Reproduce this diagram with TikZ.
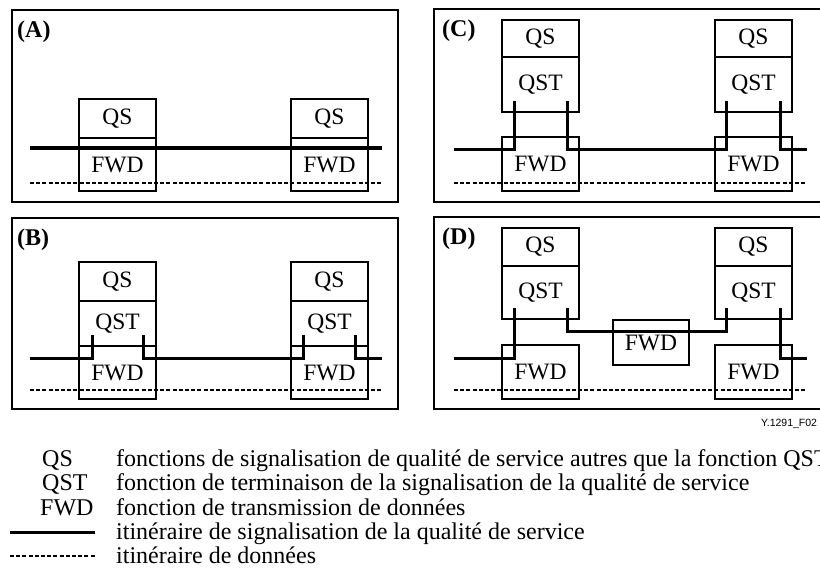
\documentclass[tikz,border=0pt]{standalone}
\usepackage{fontspec}
\setmainfont{Liberation Serif}
\newfontfamily\figsans{Liberation Sans}
\usetikzlibrary{positioning}
\begin{document}
\begin{tikzpicture}[x=1pt,y=-1pt]

\tikzset{panel/.style={draw, line width=1.6pt, anchor=north west,
    inner sep=0pt, outer sep=0pt},
  fbox/.style={draw, line width=1.3pt, anchor=north west,
    minimum width=77pt, minimum height=#1, inner sep=0pt, outer sep=0pt,
    font=\fontsize{23.5}{23.5}\selectfont
  }, fbox/.default=39pt,
  tag/.style={anchor=north west, inner sep=0pt,
    font=\bfseries\fontsize{24}{24}\selectfont},
  sig/.style={line width=3pt},
  data/.style={line width=1.1pt, dash pattern=on 4pt off 2.2pt},
  key/.style={anchor=base west, inner sep=0pt,
    font=\fontsize{24}{24}\selectfont}
}
\useasboundingbox (0,0) rectangle (820,573);

% panels
\node[panel, minimum width=386pt, minimum height=192pt] (pA) at (12,10) {};
\node[panel, minimum width=386pt, minimum height=191pt] (pB) at (12,218) {};
\node[panel, minimum width=390pt, minimum height=193pt] (pC) at (434,9) {};
\node[panel, minimum width=390pt, minimum height=192pt] (pD) at (434,217) {};
\node[tag] (tA) at ([shift={(5pt,-11pt)}]pA.north west) {(A)};
\node[tag] (tB) at ([shift={(5pt,-11pt)}]pB.north west) {(B)};
\node[tag] (tC) at ([shift={(8pt,-11pt)}]pC.north west) {(C)};
\node[tag] (tD) at ([shift={(8pt,-11pt)}]pD.north west) {(D)};

% (A)
\node[fbox] (qsA1) at (79,99) {QS};
\node[fbox=53pt, below=0pt of qsA1] (fwdA1) {FWD};
\node[fbox] (qsA2) at (291,99) {QS};
\node[fbox=53pt, below=0pt of qsA2] (fwdA2) {FWD};
\coordinate (inA) at (30,148);
\coordinate (outA) at (382,148);
\coordinate (dinA) at (30,183);
\coordinate (doutA) at (382,183);
\draw[sig, line width=3.5pt] (inA) -- (outA);
\draw[data] (dinA) -- (doutA);

% (B)
\node[fbox] (qsB1) at (79,262) {QS};
\node[fbox=45pt, below=0pt of qsB1] (qstB1) {QST};
\node[fbox=53pt, below=0pt of qstB1] (fwdB1) {FWD};
\node[fbox] (qsB2) at (291,262) {QS};
\node[fbox=45pt, below=0pt of qsB2] (qstB2) {QST};
\node[fbox=53pt, below=0pt of qstB2] (fwdB2) {FWD};
\coordinate (inB) at (30,358);
\coordinate (outB) at (382,358);
\coordinate (dinB) at (30,390);
\coordinate (doutB) at (382,390);
\coordinate (tB1) at ([shift={(13pt,11pt)}]qstB1.south west);
\coordinate (tB2) at ([shift={(-13pt,11pt)}]qstB1.south east);
\coordinate (tB3) at ([shift={(12pt,11pt)}]qstB2.south west);
\coordinate (tB4) at ([shift={(-13pt,11pt)}]qstB2.south east);
\draw[sig] (inB) -| (tB1);
\draw[sig] (tB2) |- (tB3 |- inB) -- (tB3);
\draw[sig] (tB4) |- (outB);
\draw[data] (dinB) -- (doutB);

% (C)
\node[fbox=37pt] (qsC1) at (502,20) {QS};
\node[fbox=55pt, below=0pt of qsC1] (qstC1) {QST};
\node[fbox=54pt] (fwdC1) at (502,137) {FWD};
\node[fbox=37pt] (qsC2) at (715,20) {QS};
\node[fbox=55pt, below=0pt of qsC2] (qstC2) {QST};
\node[fbox=54pt] (fwdC2) at (715,137) {FWD};
\coordinate (inC) at (454,149);
\coordinate (outC) at (807,149);
\coordinate (dinC) at (454,183);
\coordinate (doutC) at (807,183);
\coordinate (tC1) at ([shift={(12pt,11pt)}]qstC1.south west);
\coordinate (tC2) at ([shift={(-12pt,11pt)}]qstC1.south east);
\coordinate (tC3) at ([shift={(11pt,11pt)}]qstC2.south west);
\coordinate (tC4) at ([shift={(-12pt,11pt)}]qstC2.south east);
\draw[sig] (inC) -| (tC1);
\draw[sig] (tC2) |- (tC3 |- inC) -- (tC3);
\draw[sig] (tC4) |- (outC);
\draw[data] (dinC) -- (doutC);

% (D)
\node[fbox=38pt] (qsD1) at (502,228) {QS};
\node[fbox=53pt, below=0pt of qsD1] (qstD1) {QST};
\node[fbox=54pt] (fwdD1) at (502,345) {FWD};
\node[fbox=38pt] (qsD2) at (715,228) {QS};
\node[fbox=53pt, below=0pt of qsD2] (qstD2) {QST};
\node[fbox=54pt] (fwdD2) at (715,345) {FWD};
\node[fbox=45pt, minimum width=76pt] (fwdD3) at (613,320) {FWD};
\coordinate (inD) at (454,358);
\coordinate (outD) at (807,358);
\coordinate (dinD) at (454,390);
\coordinate (doutD) at (807,390);
\coordinate (midD) at ([yshift=-11pt]fwdD3.north);
\coordinate (tD1) at ([shift={(12pt,11pt)}]qstD1.south west);
\coordinate (tD2) at ([shift={(-12pt,11pt)}]qstD1.south east);
\coordinate (tD3) at ([shift={(11pt,11pt)}]qstD2.south west);
\coordinate (tD4) at ([shift={(-12pt,11pt)}]qstD2.south east);
\draw[sig] (inD) -| (tD1);
\draw[sig] (tD2) |- (midD) -| (tD3);
\draw[sig] (tD4) |- (outD);
\draw[data] (dinD) -- (doutD);

\node[anchor=base west, inner sep=0pt, font=\figsans\fontsize{10.5}{10.5}\selectfont]
  (fig) at (761,426) {Y.1291\_F02};

% legend
\node[key] (kQS) at (42,466) {QS};
\node[key] (kQST) at (42,490) {QST};
\node[key] (kFWD) at (40,515) {FWD};
\node[key] (dQS) at (116,466) {fonctions de signalisation de qualité de service autres que la fonction QST};
\node[key] (dQST) at (116,490) {fonction de terminaison de la signalisation de la qualité de service};
\node[key] (dFWD) at (116,515) {fonction de transmission de données};
\node[key] (dsig) at (116,539) {itinéraire de signalisation de la qualité de service};
\node[key] (ddata) at (116,563) {itinéraire de données};
\coordinate (ks1) at (10,532);
\coordinate (ks2) at (95,532);
\coordinate (kd1) at (10,556);
\coordinate (kd2) at (95,556);
\draw[sig] (ks1) -- (ks2);
\draw[data] (kd1) -- (kd2);
\end{tikzpicture}
\end{document}
